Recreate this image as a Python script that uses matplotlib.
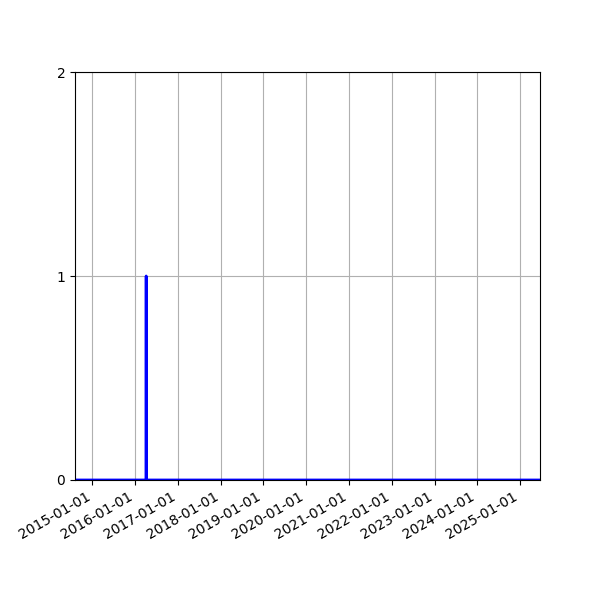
import matplotlib
matplotlib.use("Agg")
import matplotlib.pyplot as plt
import matplotlib.dates as mdates
import pandas as pd

# event counts per day (only one non-zero day)
dates = pd.to_datetime(["2014-08-05", "2016-04-03", "2016-04-04", "2016-04-05", "2025-06-20"])
counts = [0, 0, 1, 0, 0]

fig, ax = plt.subplots(figsize=(6, 6), dpi=100)
ax.plot(dates, counts, color="blue", linewidth=2)
ax.set_xlim(dates[0], dates[-1])
ax.set_ylim(0, 2)
ax.set_yticks([0, 1, 2])
ax.xaxis.set_major_locator(mdates.YearLocator())
ax.xaxis.set_major_formatter(mdates.DateFormatter("%Y-%m-%d"))
ax.grid(True)
fig.autofmt_xdate()
fig.savefig("out.png")
